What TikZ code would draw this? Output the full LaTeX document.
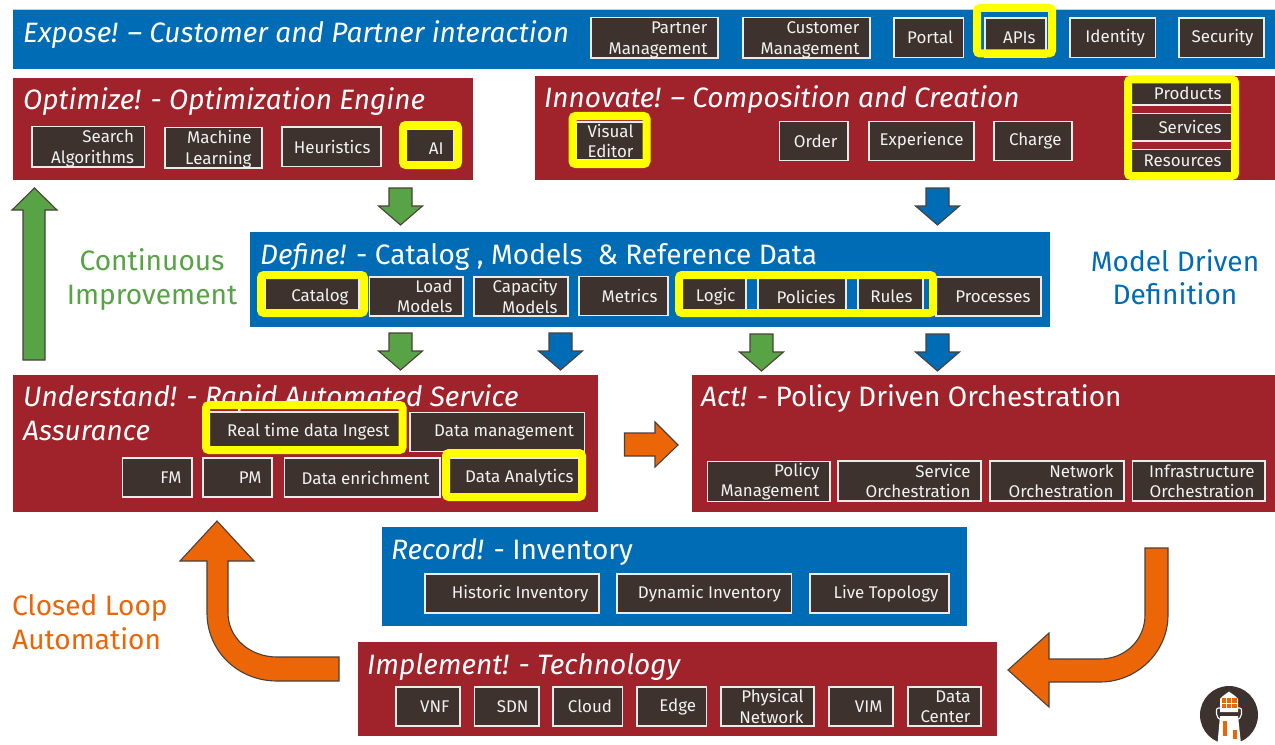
\documentclass[tikz,border=0pt]{standalone}
\usepackage{fontspec}
\setmainfont{Fira Sans}
\definecolor{pblue}{HTML}{006CB6}
\definecolor{pred}{HTML}{A0222A}
\definecolor{pbox}{HTML}{3D322D}
\definecolor{pgreen}{HTML}{57A345}
\definecolor{porange}{HTML}{EC6608}
\definecolor{pyel}{HTML}{FFFF00}
\definecolor{pedge}{HTML}{4A4038}
\tikzset{
  boxst/.style={draw=white!92!black,line width=1.2bp,fill=pbox,text=white!95!black,inner xsep=10bp,inner ysep=0bp,
    align=flush right,font=\fontsize{17}{20.5}\selectfont},
  titlest/.style={anchor=base west,inner sep=0pt,text=white,font=\fontsize{28.15}{30}\selectfont},
  sidest/.style={align=center,inner sep=0pt,font=\fontsize{28.2}{33.5}\selectfont},
  yframe/.style={draw=pyel,line width=8bp,rounded corners=3bp},
  blockarrow/.style={draw=pedge,line width=1.1bp,line join=miter}
}
\newcommand\bx[6]{%
  \pgfmathsetmacro\bxw{#4-#2}\pgfmathsetmacro\bxh{#5-#3}\pgfmathsetmacro\bxt{#4-#2-21}%
  \node[boxst,minimum width=\bxw bp,minimum height=\bxh bp,text width=\bxt bp] (#1) at ({(#2+#4)/2},{(#3+#5)/2}) {#6};}
\newcommand\tstr{\rule{0pt}{16.5bp}}
\newcommand\pnl[6]{\fill[#6] (#2,#3) rectangle (#4,#5) coordinate (#1);}
\newcommand\yf[4]{\draw[yframe] (#1+4,#2+4) rectangle (#3-4,#4-4);}
\newcommand\dnarrow[3]{\draw[blockarrow,fill=#3] (#1-11.5,#2) -- (#1+11.5,#2) -- (#1+11.5,#2+18) -- (#1+22,#2+18) -- (#1,#2+37) -- (#1-22,#2+18) -- (#1-11.5,#2+18) -- cycle;}
\begin{document}
\begin{tikzpicture}[x=1bp,y=-1bp]
\useasboundingbox (0,0) rectangle (1275,745);
\fill[white] (0,0) rectangle (1275,745);
% panels
\fill[pblue!30] (13,9) rectangle (1275,11);
\pnl{expose}{13}{10}{1275}{69}{pblue}
\pnl{optimize}{13}{78}{473}{180}{pred}
\pnl{innovate}{535}{76}{1275}{180}{pred}
\pnl{define}{250}{232}{1050}{327}{pblue}
\pnl{understand}{13}{375}{598}{512}{pred}
\pnl{act}{692}{375}{1275}{512}{pred}
\pnl{record}{382}{527}{966.5}{626}{pblue}
\pnl{implement}{358}{642}{997}{736}{pred}
% titles
\node[titlest] (texpose) at (23,43) {\textit{Expose! – Customer and Partner interaction}};
\node[titlest] (toptimize) at (23,110) {\textit{Optimize! - Optimization Engine}};
\node[titlest] (tinnovate) at (544,108) {\textit{Innovate! – Composition and Creation}};
\node[titlest] (tdefine) at (260,264) {\textit{Define!} - Catalog , Models~~\& Reference Data};
\node[titlest] (tunder) at (23,406) {\textit{Understand! - Rapid Automated Service}};
\node[titlest] (tassur) at (23,440) {\textit{Assurance}};
\node[titlest] (tact) at (701,406) {\textit{Act!} - Policy Driven Orchestration};
\node[titlest] (trecord) at (391,559) {\textit{Record!} - Inventory};
\node[titlest] (timpl) at (367,674) {\textit{Implement! - Technology}};
% side labels
\node[sidest,text=pgreen] (lcont) at (152,279.5) {Continuous\\Improvement};
\node[sidest,text=pblue] (lmodel) at (1175,277) {Model Driven\\Definition};
\node[sidest,text=porange,align=left,anchor=west] (lclosed) at (12,622) {Closed Loop\\Automation};
% boxes
\bx{b1}{591}{18}{718}{57.5}{\tstr Partner\\Management}
\bx{b2}{743}{18}{870}{57.5}{\tstr Customer\\Management}
\bx{b3}{894}{18}{963.5}{57.5}{Portal}
\bx{b4}{985}{18}{1046}{57.5}{APIs}
\bx{b5}{1070}{18}{1155.5}{57.5}{Identity}
\bx{b6}{1179}{18}{1264}{57.5}{Security}
\bx{b7}{32}{127}{144.5}{166.5}{\tstr Search\\Algorithms}
\bx{b8}{165}{128}{262}{167.5}{\tstr Machine\\Learning}
\bx{b9}{282}{127}{381}{166.5}{Heuristics}
\bx{b10}{406}{129}{454}{168}{AI}
\bx{b11}{576}{122}{644}{160}{Visual\\Editor}
\bx{b12}{779.5}{121.5}{848}{160.5}{Order}
\bx{b13}{869}{121.5}{974}{160.5}{Experience}
\bx{b14}{994}{121.5}{1072}{160.5}{Charge}
\bx{b15}{1131}{82}{1232}{105}{Products}
\bx{b16}{1131}{113.5}{1232}{141}{Services}
\bx{b17}{1131}{149.5}{1232}{172.5}{Resources}
\bx{b18}{265}{277}{359}{316}{Catalog}
\bx{b19}{369.5}{277}{463}{316}{Load\\Models}
\bx{b20}{474}{277}{568}{316}{Capacity\\Models}
\bx{b21}{579}{276.5}{668}{315.5}{Metrics}
\bx{b22}{682}{277}{746}{316}{Logic}
\bx{b23}{758}{277}{846}{316}{Policies}
\bx{b24}{858}{277}{923}{316}{Rules}
\bx{b25}{936}{277}{1041}{316}{Processes}
\bx{b26}{209}{412}{400}{451}{Real time data Ingest}
\bx{b27}{410}{412.5}{584.5}{451.5}{Data management}
\bx{b28}{122.5}{458}{192}{497}{FM}
\bx{b29}{203}{458}{272}{497}{PM}
\bx{b30}{284.5}{458}{440}{497}{Data enrichment}
\bx{b31}{449}{458}{584}{497}{Data Analytics}
\bx{b32}{707.5}{461.5}{830}{501.5}{Policy\\Management}
\bx{b33}{838}{461}{981}{501}{Service\\Orchestration}
\bx{b34}{990}{461}{1124}{501}{Network\\Orchestration}
\bx{b35}{1132.5}{461}{1265}{501}{Infrastructure\\Orchestration}
\bx{b36}{425}{574}{599}{613}{Historic Inventory}
\bx{b37}{617}{574}{791.5}{613}{Dynamic Inventory}
\bx{b38}{810}{574}{949}{613}{Live Topology}
\bx{b39}{396}{687}{460}{726}{VNF}
\bx{b40}{474.5}{687}{539}{726}{SDN}
\bx{b41}{553}{687}{622.5}{726}{Cloud}
\bx{b42}{637}{687}{706.5}{726}{Edge}
\bx{b43}{721}{687}{814}{726}{Physical\\Network}
\bx{b44}{829}{687}{893}{726}{VIM}
\bx{b45}{908}{687}{981}{726}{Data\\Center}
% yellow frames
\yf{973}{4}{1056}{57.5}
\yf{399}{121}{462}{169}
\yf{568.5}{112}{650.5}{168}
\yf{1124}{75.5}{1239}{180}
\yf{257}{271}{368}{317}
\yf{675}{271}{937}{317}
\yf{202}{401}{406.5}{454}
\yf{442}{449}{586}{501}
% arrows
\dnarrow{400.5}{188}{pgreen}
\dnarrow{937.5}{188}{pblue}
\dnarrow{400.5}{333}{pgreen}
\dnarrow{560.5}{333}{pblue}
\dnarrow{761.5}{334}{pgreen}
\dnarrow{937.5}{334}{pblue}
\draw[blockarrow,fill=pgreen] (23,360) -- (45,360) -- (45,210) -- (57,210) -- (34.5,188) -- (12,210) -- (23,210) -- cycle;
\draw[blockarrow,fill=porange] (624.5,433) -- (655,433) -- (655,422) -- (678,445) -- (655,467) -- (655,456) -- (624.5,456) -- cycle;
\draw[blockarrow,fill=porange] (1145,548) -- (1168,548) -- (1168,615) .. controls (1168,652) and (1137,682) .. (1100,682) -- (1049,682) -- (1049,707) -- (1008,670) -- (1049,633) -- (1049,659) -- (1100,659) .. controls (1125,659) and (1145,640) .. (1145,615) -- cycle;
\draw[blockarrow,fill=porange] (339,657) -- (339,681) -- (277,681) .. controls (238,681) and (207,651) .. (207,613) -- (207,561) -- (180,561) -- (217,521) -- (254,561) -- (228,561) -- (228,613) .. controls (228,638) and (250,657) .. (277,657) -- cycle;
% logo
\fill[pbox] (1229,715) circle (29);
\fill[white] (1217.5,743.5) -- (1220,716) -- (1238,716) -- (1241,743.5) .. controls (1233,745) and (1225,745) .. (1217.5,743.5) -- cycle;
\fill[white] (1220,712) -- (1220,699) .. controls (1222,696) and (1226,694) .. (1229,691.5) .. controls (1232,694) and (1236,696) .. (1238,699) -- (1238,712) -- cycle;
\draw[white,line width=1.1bp,rounded corners=2bp] (1216.5,708) -- (1241.5,708) -- (1241.5,716) -- (1238,720) -- (1220,720) -- (1216.5,716) -- cycle;
\fill[porange] (1222,698) rectangle (1226,703);
\fill[porange] (1227,698) rectangle (1231,703);
\fill[porange] (1232,698) rectangle (1236.5,703);
\fill[porange] (1222,704) rectangle (1226,708);
\fill[porange] (1227,704) rectangle (1231,708);
\fill[porange] (1232,704) rectangle (1236.5,708);
\fill[porange] (1222.5,721) rectangle (1226.5,736);
\fill[porange] (1232.5,730) rectangle (1236.5,739);
\end{tikzpicture}
\end{document}
